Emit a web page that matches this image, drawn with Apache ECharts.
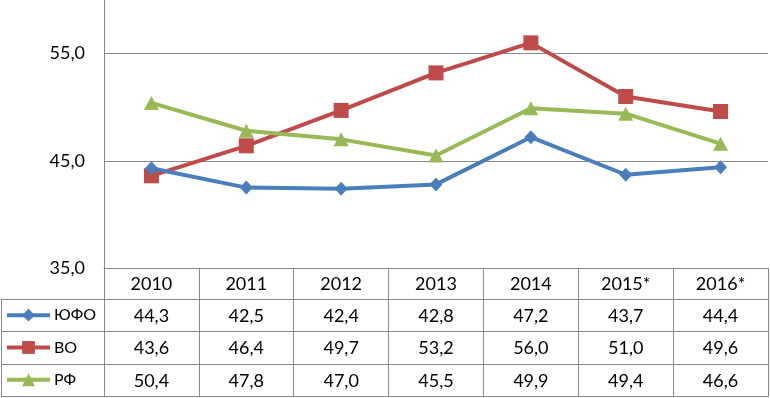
<!DOCTYPE html>
<html><head><meta charset="utf-8">
<script src="https://cdn.jsdelivr.net/npm/echarts@6/dist/echarts.min.js"></script>
<style>html,body{margin:0;padding:0;background:#fff}#c{width:770px;height:398px}</style>
</head><body><div id="c"></div>
<script>
const categories = ['2010','2011','2012','2013','2014','2015*','2016*'];
const seriesNames = ['ЮФО','ВО','РФ'];
const yufo = [44.3, 42.5, 42.4, 42.8, 47.2, 43.7, 44.4];
const vo = [43.6, 46.4, 49.7, 53.2, 56.0, 51.0, 49.6];
const rf = [50.4, 47.8, 47.0, 45.5, 49.9, 49.4, 46.6];
const yTicks = [35, 45, 55];

const FONT = 'Lato, Carlito, "Open Sans", sans-serif';
const FS = 18;
const colors = ['#4A7EBB', '#BE4B48', '#98B954'];
const symbols = ['diamond', 'rect', 'triangle'];
const symSizes = [[13,14],[15,15],[15,14]];
const allData = [yufo, vo, rf];
const fmt = v => v.toFixed(1).replace('.', ',');

const G = {left:104, right:2, top:0, bottom:130};
const rowH = 32.3;
const tableTop = 268;

const xAxes = [{
  type:'category', data:categories, gridIndex:0, position:'bottom',
  boundaryGap:true,
  axisLine:{show:true, lineStyle:{color:'#888', width:1}},
  axisTick:{show:true, interval:0, length:129, lineStyle:{color:'#888', width:1}},
  axisLabel:{interval:0, margin:16, verticalAlign:'middle', color:'#000', fontFamily:FONT, fontSize:FS}
}];
allData.forEach((d, i) => {
  xAxes.push({
    type:'category', data:d.map(fmt), gridIndex:0, position:'bottom',
    axisLine:{show:false}, axisTick:{show:false},
    axisLabel:{interval:0, margin:16 + rowH*(i+1), verticalAlign:'middle', color:'#000', fontFamily:FONT, fontSize:FS}
  });
});

const chart = echarts.init(document.getElementById('c'), null, {renderer:'canvas'});
const hLines = [];
for (let i = 1; i <= 4; i++) {
  const y = Math.round(tableTop + 31 + rowH*(i-1)) + 0.5;
  hLines.push({type:'line', shape:{x1:1, y1:y, x2:768, y2:y}, style:{stroke:'#888', lineWidth:1}, silent:true});
}
hLines.push({type:'line', shape:{x1:1.5, y1:tableTop+31.5, x2:1.5, y2:397.5}, style:{stroke:'#888', lineWidth:1}, silent:true});

const legends = seriesNames.map((n, i) => ({
  orient:'horizontal', left:5, top:tableTop + 31 + rowH*i + rowH/2 - 8, padding:0,
  itemWidth:43, itemHeight:16, itemGap:4,
  lineStyle:{width:4},
  textStyle:{color:'#000', fontFamily:FONT, fontSize:16, padding:[0,0,0,-1]},
  data:[n]
}));

chart.setOption({
  animation:false,
  backgroundColor:'#fff',
  grid:G,
  legend:legends,
  xAxis:xAxes,
  yAxis:{
    type:'value', min:35, max:60, interval:5,
    axisLine:{show:true, lineStyle:{color:'#888', width:1}},
    axisTick:{show:false},
    axisLabel:{margin:19, color:'#000', fontFamily:FONT, fontSize:FS,
      formatter: v => yTicks.indexOf(v) >= 0 ? fmt(v) : ''},
    splitLine:{show:true, lineStyle:{color:['#888','transparent'], width:1}}
  },
  series: allData.map((d, i) => ({
    name:seriesNames[i], type:'line', data:d, xAxisIndex:0,
    symbol:symbols[i], symbolSize:symSizes[i],
    lineStyle:{color:colors[i], width:4},
    itemStyle:{color:colors[i]},
    z: i === 2 ? 3 : (i === 1 ? 2 : 4)
  })),
  graphic: hLines
});
</script></body></html>
